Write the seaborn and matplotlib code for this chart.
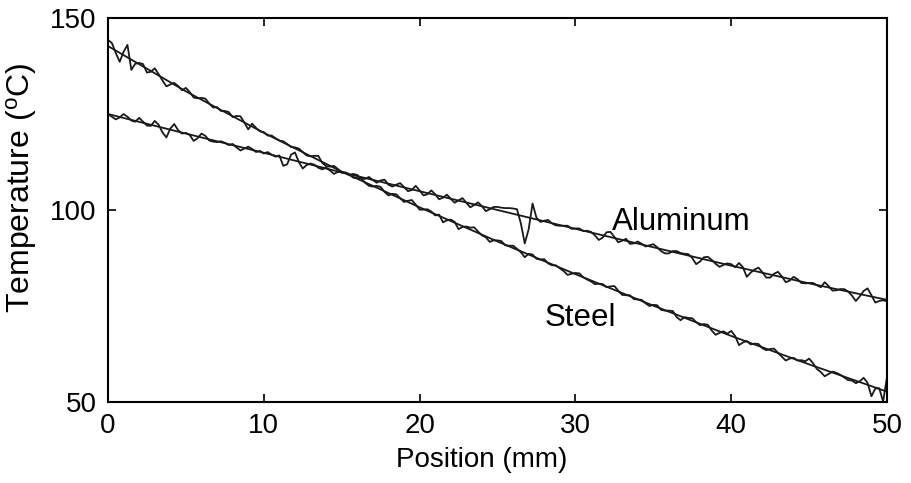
import numpy as np
import pandas as pd
import matplotlib
matplotlib.use("Agg")
import matplotlib.pyplot as plt
import seaborn as sns

# ---- data ----
# measured profiles sampled every 0.25 mm from 0 to 50 mm
position_mm = np.linspace(0, 50, 201)

steel_measured = [
    144.3, 143.5, 140.9, 138.6,
    141.2, 143.0, 136.5, 138.1,
    138.3, 138.0, 135.8, 136.0,
    136.9, 135.4, 133.7, 132.2,
    132.7, 133.1, 132.3, 131.2,
    131.8, 130.7, 129.3, 129.1,
    129.2, 129.0, 127.7, 126.7,
    126.8, 125.8, 125.8, 125.5,
    124.2, 124.5, 124.4, 122.8,
    121.0, 122.5, 121.4, 120.5,
    120.3, 119.4, 119.4, 118.7,
    118.1, 117.9, 117.2, 116.4,
    116.3, 116.0, 115.1, 114.2,
    114.0, 114.1, 114.1, 112.3,
    111.4, 111.3, 111.5, 110.7,
    109.7, 109.8, 109.3, 108.4,
    108.3, 108.3, 107.1, 106.3,
    106.1, 106.3, 106.0, 104.7,
    103.8, 104.2, 104.1, 103.1,
    102.1, 102.4, 102.6, 101.4,
    100.1, 100.1, 100.2, 99.6,
    98.6, 98.8, 96.8, 97.3,
    97.5, 96.9, 95.0, 95.6,
    95.7, 95.4, 95.5, 94.4,
    93.4, 92.9, 91.7, 92.1,
    92.1, 91.9, 90.8, 90.7,
    90.7, 89.9, 89.0, 87.7,
    88.6, 88.4, 87.3, 87.1,
    87.2, 86.1, 85.6, 85.6,
    84.8, 84.1, 83.1, 83.4,
    83.6, 83.5, 82.5, 81.9,
    81.4, 80.7, 80.8, 80.7,
    79.9, 80.1, 80.2, 79.0,
    77.9, 77.8, 77.8, 76.8,
    76.7, 76.6, 75.7, 75.0,
    75.3, 75.2, 74.0, 73.8,
    73.8, 73.7, 72.1, 71.3,
    72.1, 71.9, 71.8, 70.8,
    70.0, 70.3, 70.1, 68.6,
    67.5, 68.0, 68.4, 67.8,
    68.5, 67.2, 64.8, 65.5,
    65.9, 65.0, 65.2, 65.1,
    64.0, 63.5, 63.8, 63.9,
    62.8, 61.8, 60.8, 61.3,
    61.5, 60.8, 60.9, 60.6,
    61.3, 60.1, 58.6, 57.8,
    56.7, 57.3, 57.9, 57.6,
    57.1, 56.4, 55.7, 55.6,
    54.9, 55.4, 56.3, 55.0,
    51.5, 53.5, 53.6, 50.1,
    56.5,
]

aluminum_measured = [
    125.0, 124.3, 123.6, 124.1,
    125.0, 124.3, 123.3, 123.0,
    124.0, 123.0, 122.0, 121.9,
    123.2, 122.2, 120.2, 118.9,
    121.2, 122.4, 120.8, 119.9,
    120.1, 119.5, 118.0, 118.7,
    119.9, 119.3, 118.1, 117.8,
    117.7, 117.9, 117.5, 116.9,
    117.2, 116.3, 115.5, 116.0,
    116.5, 115.9, 115.1, 115.4,
    114.7, 115.1, 114.4, 113.9,
    114.2, 111.5, 111.9, 114.4,
    115.0, 112.5, 110.8, 111.7,
    112.1, 111.8, 111.0, 110.6,
    111.0, 110.3, 109.4, 109.9,
    110.0, 109.6, 109.1, 109.4,
    109.1, 108.2, 108.1, 108.6,
    107.8, 107.1, 107.7, 107.9,
    106.6, 106.1, 106.6, 107.0,
    106.0, 104.9, 105.2, 106.3,
    105.1, 103.8, 104.1, 105.1,
    104.1, 102.8, 103.2, 104.0,
    102.9, 101.9, 102.5, 103.1,
    101.9, 100.7, 101.3, 102.0,
    101.0, 99.7, 100.2, 100.8,
    100.8, 100.6, 100.5, 100.5,
    100.4, 100.2, 96.5, 91.3,
    95.0, 101.7, 98.0, 96.9,
    97.2, 97.4, 96.5, 96.0,
    95.9, 95.9, 95.9, 95.1,
    95.2, 95.2, 94.5, 94.6,
    94.3, 93.4, 92.2, 92.8,
    94.2, 94.3, 93.0, 91.6,
    92.0, 92.5, 91.2, 91.3,
    91.8, 91.2, 90.5, 90.8,
    91.1, 90.3, 89.3, 88.7,
    88.7, 89.3, 89.3, 88.8,
    88.6, 88.5, 87.5, 85.9,
    86.6, 87.7, 87.8, 87.0,
    86.0, 85.2, 85.7, 86.1,
    85.9, 85.1, 86.2, 85.1,
    82.6, 83.7, 84.5, 85.0,
    83.8, 82.4, 82.4, 83.4,
    83.9, 82.7, 81.2, 81.6,
    82.6, 82.0, 81.0, 80.9,
    81.0, 81.0, 80.4, 79.9,
    81.2, 80.2, 79.0, 79.1,
    79.4, 79.4, 78.8, 77.7,
    76.3, 77.5, 78.9, 79.6,
    77.8, 75.9, 76.3, 76.5,
    76.2,
]

# fitted profiles
fit_position_mm = [0, 5, 10, 15, 20, 25, 30, 35, 40, 45, 50]
steel_fit = [142.7, 130.9, 120.1, 110.0, 100.7, 91.8, 83.3, 75.1, 67.2, 59.8, 52.7]
aluminum_fit = [125.0, 119.9, 114.9, 109.8, 104.9, 100.0, 95.1, 90.3, 85.5, 80.9, 76.6]

x_ticks = [0, 10, 20, 30, 40, 50]
y_ticks = [50, 100, 150]
x_label = "Position (mm)"
y_label = r"Temperature ($^{\mathrm{o}}$C)"
labels = {"Aluminum": (32.35, 96.9), "Steel": (28.05, 71.9)}

# ---- plotting ----
sns.set_theme(style="white")
plt.rcParams["font.family"] = ["Liberation Sans", "DejaVu Sans"]
plt.rcParams["mathtext.fontset"] = "custom"
plt.rcParams["mathtext.rm"] = "Liberation Sans"
plt.rcParams["mathtext.it"] = "Liberation Sans:italic"

fig = plt.figure(figsize=(9.12, 4.83), dpi=100)
ax = fig.add_axes([0.1184, 0.1677, 0.8542, 0.7950])

meas = pd.DataFrame({"x": position_mm, "steel": steel_measured, "aluminum": aluminum_measured})
fits = pd.DataFrame({"x": fit_position_mm, "steel": steel_fit, "aluminum": aluminum_fit})

line_color = "#1a1a1a"
for col in ["steel", "aluminum"]:
    sns.lineplot(data=meas, x="x", y=col, ax=ax, color=line_color, lw=1.3,
                 solid_joinstyle="round")
    sns.lineplot(data=fits, x="x", y=col, ax=ax, color=line_color, lw=1.3)

ax.set_xlim(0, 50)
ax.set_ylim(50, 150)
ax.set_xticks(x_ticks)
ax.set_yticks(y_ticks)
ax.set_xlabel(x_label, fontsize=20, color="black")
ax.set_ylabel(y_label, fontsize=23, color="black")
ax.xaxis.set_label_coords(0.4795, -0.118)
ax.yaxis.set_label_coords(-0.088, 0.557)
ax.tick_params(axis="both", which="major", direction="in", length=6, width=1.2,
               labelsize=20, colors="black", top=True, right=True, pad=8,
               bottom=True, left=True)
for sp in ax.spines.values():
    sp.set_visible(True)
    sp.set_color("black")
    sp.set_linewidth(1.5)

for name, (tx, ty) in labels.items():
    ax.text(tx, ty, name, fontsize=22.5, ha="left", va="center", color="black")

fig.savefig("out.png", dpi=100)
